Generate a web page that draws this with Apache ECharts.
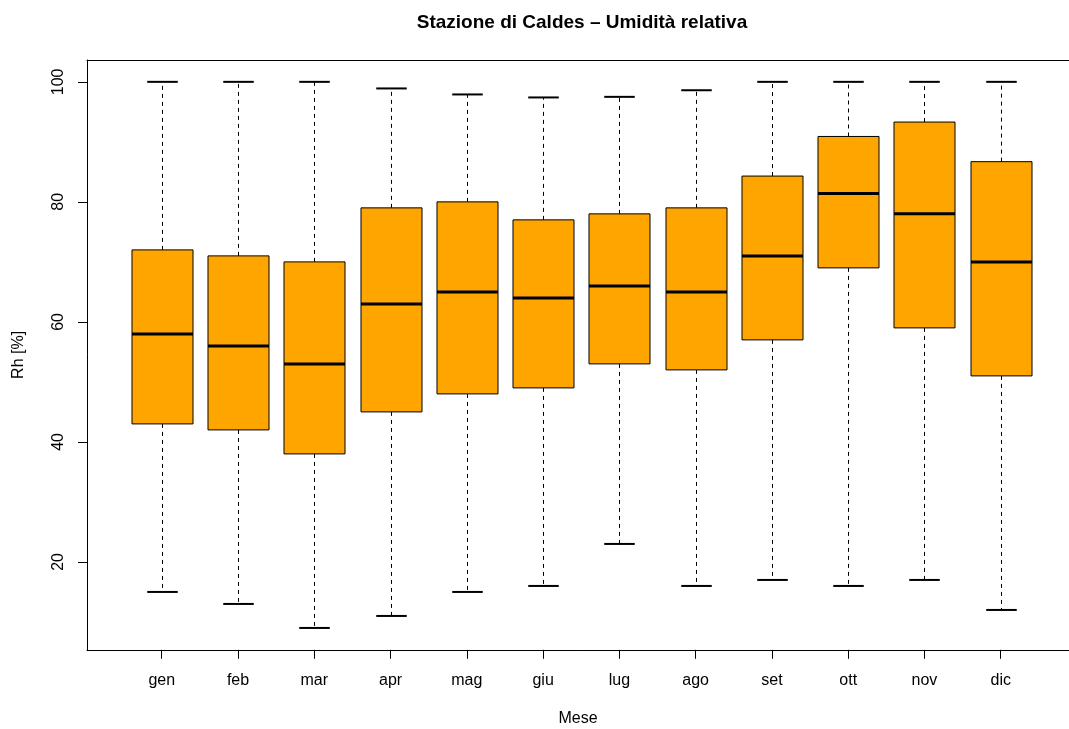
<!DOCTYPE html>
<html>
<head>
<meta charset="utf-8">
<script src="https://cdn.jsdelivr.net/npm/echarts@6/dist/echarts.min.js"></script>
<style>
html,body{margin:0;padding:0;background:#fff;}
#chart{width:1069px;height:729px;}
</style>
</head>
<body>
<div id="chart"></div>
<script>
const months = ['gen','feb','mar','apr','mag','giu','lug','ago','set','ott','nov','dic'];
const whiskerLow  = [15, 13, 9, 11, 15, 16, 23, 16, 17, 16, 17, 12];
const q1          = [43, 42, 38, 45, 48, 49, 53, 52, 57, 69, 59, 51];
const medians     = [58, 56, 53, 63, 65, 64, 66, 65, 71, 81.4, 78, 70];
const q3          = [72, 71, 70, 79, 80, 77, 78, 79, 84.3, 90.9, 93.3, 86.7];
const whiskerHigh = [100, 100, 100, 98.9, 97.9, 97.4, 97.5, 98.6, 100, 100, 100, 100];
const yTicks = [20, 40, 60, 80, 100];

const FONT = "'Liberation Sans', Arial, Helvetica, sans-serif";
const data = months.map((m, i) => [i + 1, whiskerLow[i], q1[i], medians[i], q3[i], whiskerHigh[i]]);

function renderItem(params, api) {
  const x = api.value(0);
  const pLow = api.coord([x, api.value(1)]);
  const pQ1 = api.coord([x, api.value(2)]);
  const pMed = api.coord([x, api.value(3)]);
  const pQ3 = api.coord([x, api.value(4)]);
  const pHigh = api.coord([x, api.value(5)]);
  const boxW = api.size([0.8, 0])[0];
  const capW = api.size([0.4, 0])[0];
  const cx = Math.round(pMed[0]) + 0.5;
  const dash = {stroke: '#000', lineWidth: 1, lineDash: [4, 4]};
  return {
    type: 'group',
    children: [
      {type: 'line', shape: {x1: cx, y1: pQ3[1], x2: cx, y2: pHigh[1]}, style: dash},
      {type: 'line', shape: {x1: cx, y1: pQ1[1], x2: cx, y2: pLow[1]}, style: dash},
      {type: 'line', shape: {x1: cx - capW / 2, y1: pHigh[1], x2: cx + capW / 2, y2: pHigh[1]}, style: {stroke: '#000', lineWidth: 2}},
      {type: 'line', shape: {x1: cx - capW / 2, y1: pLow[1], x2: cx + capW / 2, y2: pLow[1]}, style: {stroke: '#000', lineWidth: 2}},
      {type: 'rect', shape: {x: cx - boxW / 2, y: pQ3[1], width: boxW, height: pQ1[1] - pQ3[1]}, style: {fill: '#FFA500', stroke: '#000', lineWidth: 1}},
      {type: 'line', shape: {x1: cx - boxW / 2, y1: pMed[1], x2: cx + boxW / 2, y2: pMed[1]}, style: {stroke: '#000', lineWidth: 3}}
    ]
  };
}

const chart = echarts.init(document.getElementById('chart'), null, {renderer: 'canvas'});
chart.setOption({
  animation: false,
  backgroundColor: '#fff',
  title: {
    text: 'Stazione di Caldes – Umidità relativa',
    left: 577, top: 8, textAlign: 'center',
    textStyle: {fontFamily: FONT, fontSize: 19, fontWeight: 'bold', color: '#000'}
  },
  grid: {left: 87, top: 60, right: 0, bottom: 79.2, show: false, outerBoundsMode: 'none', containLabel: false},
  xAxis: [{
    type: 'value', min: 0.02, max: 12.895, position: 'bottom',
    name: 'Mese', nameLocation: 'middle', nameGap: 61,
    nameTextStyle: {fontFamily: FONT, fontSize: 16, color: '#000'},
    axisLine: {show: true, onZero: false, lineStyle: {color: '#000', width: 1}},
    splitLine: {show: false},
    axisTick: {show: true, length: 9, lineStyle: {color: '#000'}, customValues: months.map((m, i) => i + 1)},
    axisLabel: {fontFamily: FONT, fontSize: 16, color: '#000', margin: 23,
      customValues: months.map((m, i) => i + 1),
      formatter: v => months[Math.round(v) - 1] || ''}
  }, {
    type: 'value', min: 0.02, max: 12.895, position: 'top',
    axisLine: {show: true, onZero: false, lineStyle: {color: '#000', width: 1}},
    splitLine: {show: false}, axisTick: {show: false}, axisLabel: {show: false}
  }],
  yAxis: {
    type: 'value', min: 5.36, max: 103.64,
    name: 'Rh [%]', nameLocation: 'middle', nameGap: 60,
    nameTextStyle: {fontFamily: FONT, fontSize: 16, color: '#000'},
    axisLine: {show: true, onZero: false, lineStyle: {color: '#000', width: 1}},
    splitLine: {show: false},
    axisTick: {show: true, length: 9, lineStyle: {color: '#000'}, customValues: yTicks},
    axisLabel: {fontFamily: FONT, fontSize: 16, color: '#000', rotate: 90, margin: 20, customValues: yTicks}
  },
  series: [{
    type: 'custom',
    renderItem: renderItem,
    xAxisIndex: 0,
    encode: {x: 0, y: [1, 2, 3, 4, 5]},
    data: data,
    clip: false
  }]
});
</script>
</body>
</html>
